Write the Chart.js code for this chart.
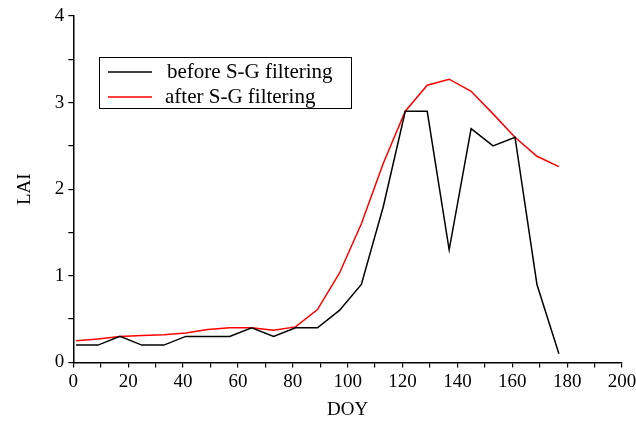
<!DOCTYPE html>
<html>
<head>
<meta charset="utf-8">
<script src="https://cdn.jsdelivr.net/npm/chart.js@4"></script>
<style>
  body { margin: 0; background: #fff; }
  #wrap { width: 636px; height: 425px; }
</style>
</head>
<body>
<div id="wrap"><canvas id="myChart" width="636" height="425"></canvas></div>
<script>
// day of year of each composite (8-day steps)
const doy = [1, 9, 17, 25, 33, 41, 49, 57, 65, 73, 81, 89, 97, 105, 113, 121, 129, 137, 145, 153, 161, 169, 177];
// LAI
const laiBefore = [0.2, 0.2, 0.3, 0.2, 0.2, 0.3, 0.3, 0.3, 0.4, 0.3, 0.4, 0.4, 0.6, 0.9, 1.8, 2.9, 2.9, 1.3, 2.7, 2.5, 2.6, 0.9, 0.1];
const laiAfter = [0.25, 0.27, 0.3, 0.31, 0.32, 0.34, 0.38, 0.4, 0.4, 0.37, 0.41, 0.61, 1.03, 1.6, 2.3, 2.9, 3.2, 3.27, 3.13, 2.87, 2.6, 2.38, 2.26];
const seriesNames = ['before S-G filtering', 'after S-G filtering'];
const seriesColors = ['#000000', '#ff0000'];

const serif = '"Liberation Serif", "DejaVu Serif", serif';
Chart.defaults.font.family = serif;
Chart.defaults.color = '#000';

function toPoints(vals) {
    return vals.map((v, i) => ({ x: doy[i], y: v }));
}

// legend box sits inside the plot, so draw it by hand
const boxLegend = {
    id: 'boxLegend',
    afterDraw(chart) {
        const ctx = chart.ctx;
        const left = 99, top = 57, w = 252, h = 51;
        ctx.save();
        ctx.fillStyle = '#fff';
        ctx.fillRect(left, top, w, h);
        ctx.strokeStyle = '#000';
        ctx.lineWidth = 1;
        ctx.strokeRect(left + 0.5, top + 0.5, w, h);
        ctx.font = '21px ' + serif;
        ctx.textBaseline = 'middle';
        chart.data.datasets.forEach((ds, i) => {
            const y = top + 15 + i * 25;
            ctx.strokeStyle = ds.borderColor;
            ctx.lineWidth = 1.5;
            ctx.beginPath();
            ctx.moveTo(108, y);
            ctx.lineTo(152, y);
            ctx.stroke();
            ctx.fillStyle = '#000';
            ctx.fillText(ds.label, i == 0 ? 167 : 165, y);
        });
        ctx.restore();
    }
};

const data = {
    datasets: [
        {
            label: seriesNames[0],
            data: toPoints(laiBefore),
            borderColor: seriesColors[0],
            borderWidth: 1.5,
            pointRadius: 0,
            tension: 0
        },
        {
            label: seriesNames[1],
            data: toPoints(laiAfter),
            borderColor: seriesColors[1],
            borderWidth: 1.5,
            pointRadius: 0,
            tension: 0
        }
    ]
};

const config = {
    type: 'line',
    data: data,
    options: {
        responsive: false,
        animation: false,
        layout: { padding: { top: 16, right: 0, left: 10, bottom: 0 } },
        plugins: {
            legend: { display: false },
            tooltip: { enabled: false }
        },
        scales: {
            x: {
                type: 'linear',
                min: 0,
                max: 200,
                // let the "200" label run to the canvas edge like the original
                afterFit: s => { s.paddingRight = 14; },
                border: { display: true, color: '#000', width: 1.5 },
                grid: { drawOnChartArea: false, color: '#000', tickLength: 5, lineWidth: 1.2 },
                ticks: {
                    stepSize: 10,
                    autoSkip: false,
                    maxRotation: 0,
                    padding: 3,
                    font: { size: 19 },
                    callback: v => (v % 20 == 0 ? v : '')
                },
                title: { display: true, text: 'DOY', font: { size: 19 }, padding: { top: 2 } }
            },
            y: {
                min: 0,
                max: 4,
                border: { display: true, color: '#000', width: 1.5 },
                grid: { drawOnChartArea: false, color: '#000', tickLength: 5, lineWidth: 1.2 },
                ticks: {
                    stepSize: 0.5,
                    autoSkip: false,
                    padding: 4,
                    font: { size: 19 },
                    callback: v => (Number.isInteger(v) ? v : '')
                },
                title: { display: true, text: 'LAI', font: { size: 19 }, padding: { bottom: 14 } }
            }
        }
    },
    plugins: [boxLegend]
};

const myChart = new Chart(document.getElementById('myChart'), config);
</script>
</body>
</html>
